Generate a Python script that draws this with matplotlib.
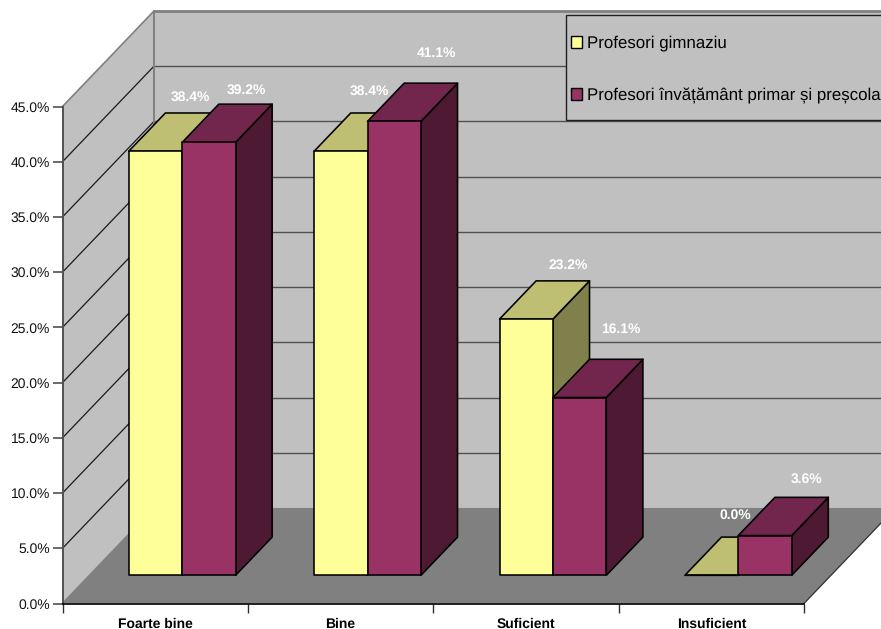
"""3D-style clustered columns of teacher ratings, drawn with flat polygons."""

import matplotlib.pyplot as plt
from matplotlib.patches import Patch, Polygon, Rectangle

plt.rcParams["font.family"] = ["Liberation Sans", "DejaVu Sans"]
plt.rcParams["text.hinting"] = "none"

categories = ["Foarte bine", "Bine", "Suficient", "Insuficient"]
gimnaziu = [38.4, 38.4, 23.2, 0.0]
primar = [39.2, 41.1, 16.1, 3.6]
series_names = ["Profesori gimnaziu", "Profesori învățământ primar și preșcolar"]
y_ticks = [0, 5, 10, 15, 20, 25, 30, 35, 40, 45]

# depth of the box, in axis units (x = categories, y = percent)
DEPTH_X = 91.5 / 185.4
DEPTH_Y = 95.5 / 11.04
BAR_FRONT = 0.295
BAR_BACK = 0.695
BAR_GAP = 0.212
BAR_WIDTH = 0.288

YELLOW = ("#FFFF99", "#BFBF73", "#80804D")
PURPLE = ("#993366", "#73264D", "#4D1933")

# hand placed data labels, pixel offsets from the top back edge of each bar
YELLOW_NUDGE = [(-2, 16), (-8, 22), (5, 16), (-13, 22)]
PURPLE_NUDGE = [(1, 14), (6, 30), (5, 30), (5, 18)]


def project(x, y, depth):
    return x + depth * DEPTH_X, y + depth * DEPTH_Y


def add_poly(ax, points, face, edge="black", lw=1.15, zorder=2):
    ax.add_patch(Polygon(points, closed=True, facecolor=face, edgecolor=edge,
                         linewidth=lw, joinstyle="round", clip_on=False, zorder=zorder))


def draw_box(ax):
    x_max = len(categories)
    y_max = y_ticks[-1]
    add_poly(ax, [project(0, 0, 0), project(0, 0, 1), project(0, y_max, 1), project(0, y_max, 0)],
             "#C0C0C0", edge="none", zorder=0)
    add_poly(ax, [project(0, 0, 1), project(x_max, 0, 1), project(x_max, y_max, 1), project(0, y_max, 1)],
             "#C0C0C0", edge="none", zorder=0)
    add_poly(ax, [project(0, 0, 0), project(x_max, 0, 0), project(x_max, 0, 1), project(0, 0, 1)],
             "#808080", edge="none", zorder=0)

    for tick in y_ticks[1:-1]:
        xs, ys = zip(project(0, tick, 0), project(0, tick, 1), project(x_max, tick, 1))
        ax.plot(xs[:2], ys[:2], color="#1a1a1a", lw=0.9, clip_on=False, zorder=1)
        ax.plot(xs[1:], ys[1:], color="#505050", lw=1.0, clip_on=False, zorder=1)

    # outline of the walls
    for start, end, width in [
        (project(0, y_max, 0), project(0, y_max, 1), 1.2),
        (project(0, y_max, 1), project(x_max, y_max, 1), 2.0),
        (project(0, 0, 1), project(0, y_max, 1), 1.4),
        (project(0, 0, 0), project(0, 0, 1), 1.2),
    ]:
        ax.plot([start[0], end[0]], [start[1], end[1]], color="#808080", lw=width,
                clip_on=False, zorder=1)
    xs, ys = zip(project(x_max, 0, 0), project(x_max, 0, 1))
    ax.plot(xs, ys, color="#303030", lw=0.9, clip_on=False, zorder=1)


def draw_bar(ax, left, value, colors):
    right = left + BAR_WIDTH
    front, top, side = colors
    add_poly(ax, [project(right, 0, BAR_FRONT), project(right, 0, BAR_BACK),
                  project(right, value, BAR_BACK), project(right, value, BAR_FRONT)], side)
    add_poly(ax, [project(left, value, BAR_FRONT), project(right, value, BAR_FRONT),
                  project(right, value, BAR_BACK), project(left, value, BAR_BACK)], top)
    add_poly(ax, [project(left, 0, BAR_FRONT), project(right, 0, BAR_FRONT),
                  project(right, value, BAR_FRONT), project(left, value, BAR_FRONT)], front)


def label_bar(ax, left, value, nudge):
    anchor = project(left + BAR_WIDTH / 2, value, BAR_BACK)
    ax.annotate(f"{value:.1f}%", anchor, xytext=nudge, textcoords="offset pixels",
                ha="center", va="center", color="white", fontsize=10,
                fontweight="bold", annotation_clip=False, zorder=5)


fig = plt.figure(figsize=(8.81, 6.29), dpi=100, facecolor="white")
ax = fig.add_axes([62.5 / 881, 25.5 / 629, 741.5 / 881, 497 / 629])
ax.set_xlim(0, len(categories))
ax.set_ylim(0, y_ticks[-1])
ax.patch.set_visible(False)

draw_box(ax)
for i in range(len(categories)):
    left = i + BAR_GAP
    draw_bar(ax, left, gimnaziu[i], YELLOW)
    draw_bar(ax, left + BAR_WIDTH, primar[i], PURPLE)
for i in range(len(categories)):
    left = i + BAR_GAP
    label_bar(ax, left, gimnaziu[i], YELLOW_NUDGE[i])
    label_bar(ax, left + BAR_WIDTH, primar[i], PURPLE_NUDGE[i])

for name in ["top", "right"]:
    ax.spines[name].set_visible(False)
ax.spines["left"].set_color("#505050")
ax.spines["left"].set_linewidth(1.4)
ax.spines["bottom"].set_color("black")
ax.spines["bottom"].set_linewidth(1.2)

ax.set_yticks(y_ticks)
ax.set_yticklabels([f"{t:.1f}%" for t in y_ticks], fontsize=10, color="#111111")
ax.tick_params(axis="y", length=7, width=1.2, color="#505050", pad=2)
ax.set_xticks(range(len(categories) + 1))
ax.set_xticklabels([])
ax.tick_params(axis="x", which="major", length=6.5, width=1.0, color="#303030")
ax.set_xticks([i + 0.5 for i in range(len(categories))], minor=True)
ax.set_xticklabels(categories, minor=True, fontsize=10, fontweight="bold")
ax.tick_params(axis="x", which="minor", length=0, pad=10)

# legend frame runs past the right edge of the figure
fig.add_artist(Rectangle((566 / 881, 1 - 120 / 629), 340 / 881, 105 / 629, transform=fig.transFigure,
                         facecolor="#C0C0C0", edgecolor="#202020", linewidth=1.0, zorder=6))
handles = [
    Patch(facecolor=YELLOW[0], edgecolor="black", label=series_names[0]),
    Patch(facecolor=PURPLE[0], edgecolor="black", label=series_names[1]),
]
legend = fig.legend(handles=handles, loc="upper left", bbox_to_anchor=(566 / 881, 1 - 30.5 / 629),
                    bbox_transform=fig.transFigure, fontsize=12.2, frameon=False, borderaxespad=0,
                    borderpad=0.3, labelspacing=2.13, handlelength=0.65, handleheight=0.65,
                    handletextpad=0.27)
legend.set_zorder(7)

fig.savefig("out.png", dpi=100)
plt.close(fig)
